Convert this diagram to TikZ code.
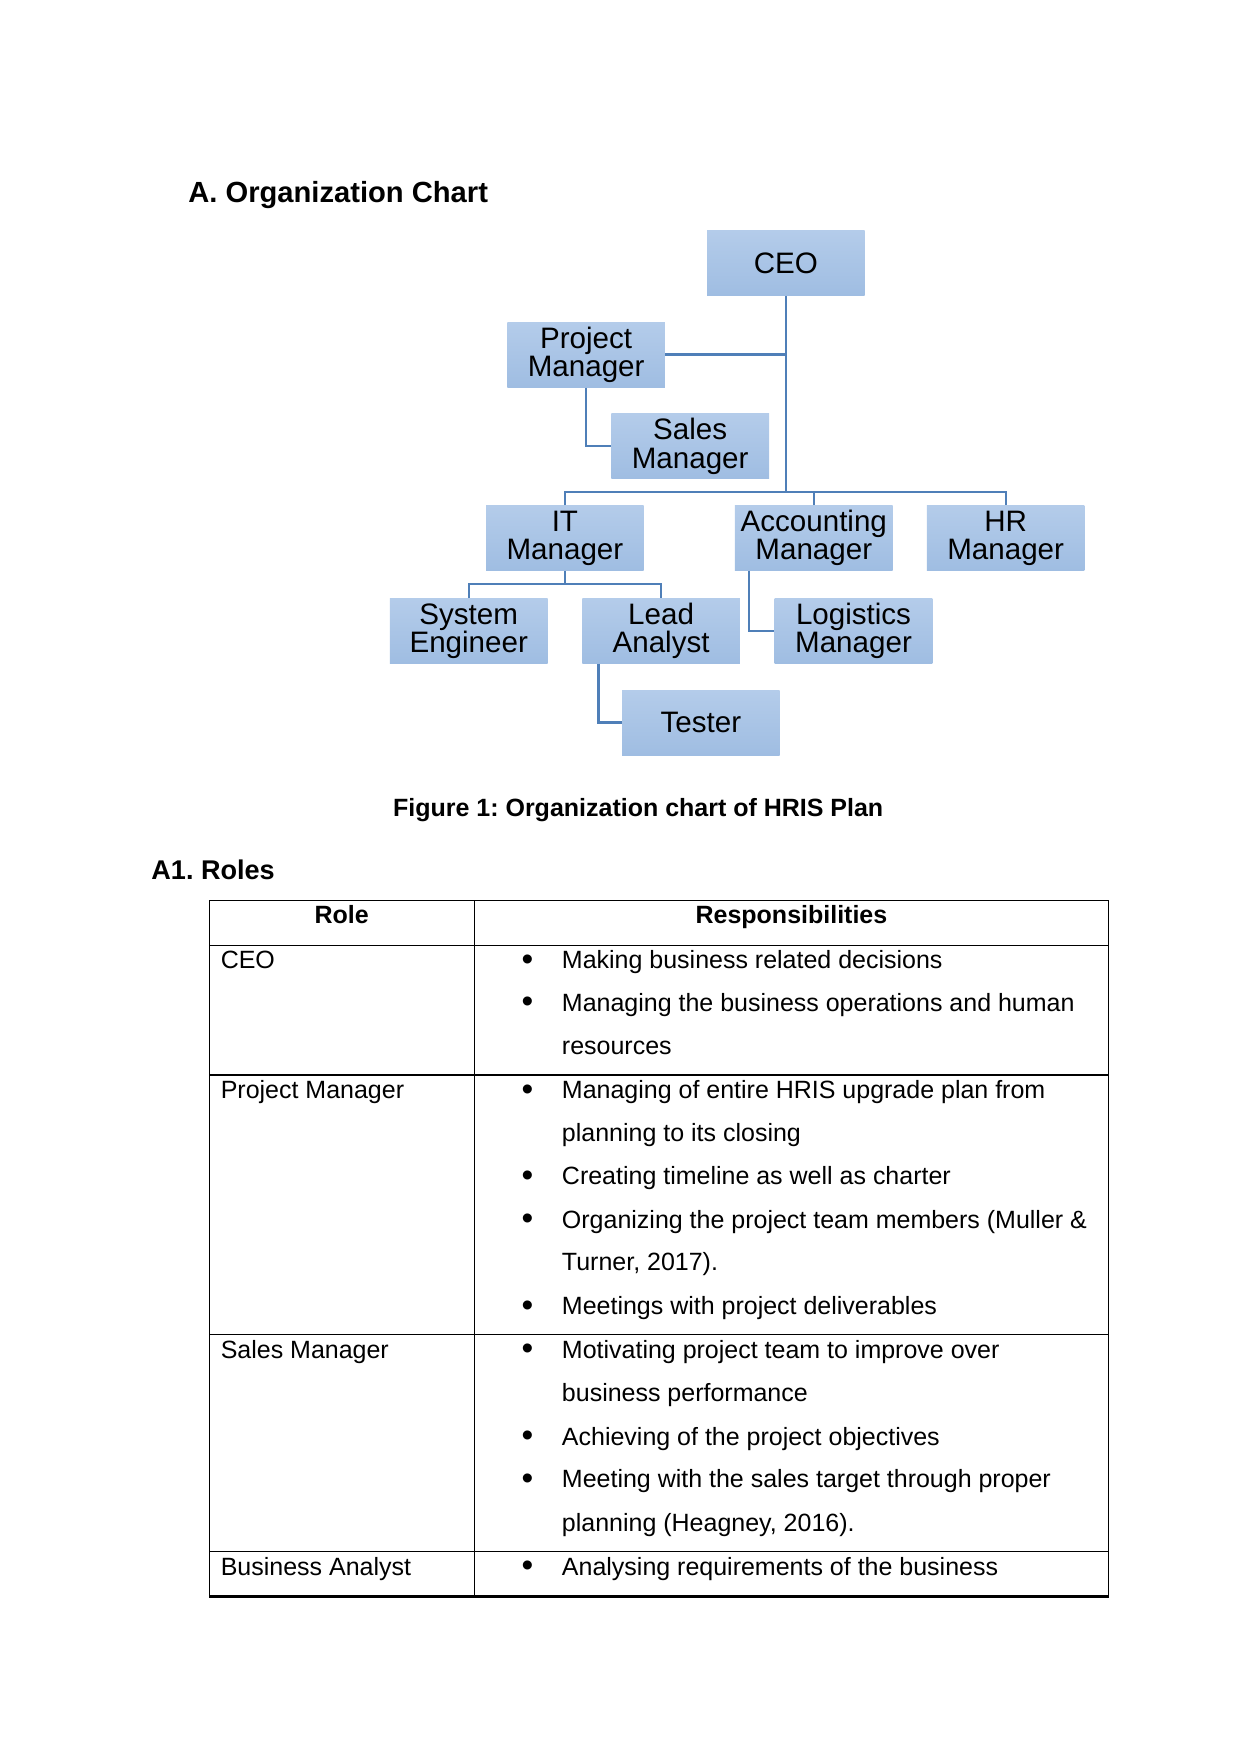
\documentclass[tikz,border=0pt]{standalone}
\usepackage{fontspec}
\setmainfont{Liberation Sans}
\frenchspacing
\definecolor{boxtop}{HTML}{B4CCEA}
\definecolor{boxbot}{HTML}{9FBDE2}
\definecolor{connblue}{HTML}{4F7FB8}
\begin{document}
\begin{tikzpicture}[x=0.5372pt,y=-0.5372pt,
  orgbox/.style={minimum width=75.7pt, minimum height=31.2pt, inner sep=0pt,
    top color=boxtop, bottom color=boxbot, align=center,
    font=\fontsize{14.2}{13.6}\selectfont},
  conn/.style={draw=connblue, line width=1.1pt},
  txt/.style={anchor=base west, inner sep=0pt, font=\fontsize{12}{14}\selectfont},
  hdr/.style={anchor=base, inner sep=0pt, font=\fontsize{12}{14}\selectfont\bfseries},
  bul/.style={anchor=base west, inner sep=0pt, yshift=-0.8pt, font=\fontsize{16}{16}\selectfont},
  rule/.style={draw=black, line width=0.6pt}]
\useasboundingbox (0,0) rectangle (1109,1568);

% headings
\node[anchor=base west, inner sep=0pt, font=\fontsize{14}{16}\selectfont\bfseries] (title) at (168,181) {A. Organization Chart};
\node[anchor=base, inner sep=0pt, font=\fontsize{12}{14}\selectfont\bfseries] (caption) at (570.5,730) {Figure 1: Organization chart of HRIS Plan};
\node[anchor=base west, inner sep=0pt, font=\fontsize{13}{15}\selectfont\bfseries] (roles) at (135,786) {A1. Roles};

% org chart boxes
\node[orgbox] (ceo) at (702.5,235) {CEO};
\node[orgbox] (pm) at (524,317) {Project\\Manager};
\node[orgbox] (sales) at (617,399) {Sales\\Manager};
\node[orgbox] (it) at (505,481) {IT\\Manager};
\node[orgbox] (acc) at (727.5,481) {Accounting\\Manager};
\node[orgbox] (hr) at (899,481) {HR\\Manager};
\node[orgbox] (se) at (419,564) {System\\Engineer};
\node[orgbox] (la) at (591,564) {Lead\\Analyst};
\node[orgbox] (log) at (763,564) {Logistics\\Manager};
\node[orgbox] (tester) at (626.5,646) {Tester};

\coordinate (bus) at (0,440);
\coordinate (itbus) at (0,522);

% connectors
\draw[conn] (ceo.south) -- (ceo.south |- bus);
\draw[conn] (pm.east) -- (pm.east -| ceo.south);
\draw[conn] (pm.south) |- (sales.west);
\draw[conn] (it.north) -- (it.north |- bus) -- (hr.north |- bus) -- (hr.north);
\draw[conn] (acc.north) -- (acc.north |- bus);
\draw[conn] (it.south) -- (it.south |- itbus);
\draw[conn] (se.north) -- (se.north |- itbus) -- (la.north |- itbus) -- (la.north);
\draw[conn] ([xshift=7pt]acc.south west) |- (log.west);
\draw[conn] ([xshift=8pt]la.south west) |- (tester.west);

% table
\draw[rule] (187,805) rectangle (991,1427);
\draw[rule] (424,805) -- (424,1427);
\draw[rule] (187,845) -- (991,845);
\draw[rule] (187,961) -- (991,961);
\draw[rule] (187,1193) -- (991,1193);
\draw[rule] (187,1387) -- (991,1387);
\draw[draw=black, line width=1.3pt] (187,1427) -- (991,1427);

\node[hdr] (hrole) at (305.5,826) {Role};
\node[hdr] (hresp) at (707.5,826) {Responsibilities};

% CEO row
\node[txt] (r1) at (197,866) {CEO};
\node[bul] (b11) at (466,866) {•};
\node[txt] (c11) at (502,866) {Making business related decisions};
\node[bul] (b12) at (466,904) {•};
\node[txt] (c12) at (502,904) {Managing the business operations and human};
\node[txt] (c13) at (502,943) {resources};

% Project Manager row
\node[txt] (r2) at (197,982) {Project Manager};
\node[bul] (b21) at (466,982) {•};
\node[txt] (c21) at (502,982) {Managing of entire HRIS upgrade plan from};
\node[txt] (c22) at (502,1020) {planning to its closing};
\node[bul] (b23) at (466,1059) {•};
\node[txt] (c23) at (502,1059) {Creating timeline as well as charter};
\node[bul] (b24) at (466,1098) {•};
\node[txt] (c24) at (502,1098) {Organizing the project team members (Muller \&};
\node[txt] (c25) at (502,1136) {Turner, 2017).};
\node[bul] (b26) at (466,1175) {•};
\node[txt] (c26) at (502,1175) {Meetings with project deliverables};

% Sales Manager row
\node[txt] (r3) at (197,1214) {Sales Manager};
\node[bul] (b31) at (466,1214) {•};
\node[txt] (c31) at (502,1214) {Motivating project team to improve over};
\node[txt] (c32) at (502,1253) {business performance};
\node[bul] (b33) at (466,1292) {•};
\node[txt] (c33) at (502,1292) {Achieving of the project objectives};
\node[bul] (b34) at (466,1330) {•};
\node[txt] (c34) at (502,1330) {Meeting with the sales target through proper};
\node[txt] (c35) at (502,1369) {planning (Heagney, 2016).};

% Business Analyst row
\node[txt] (r4) at (197,1408) {Business Analyst};
\node[bul] (b41) at (466,1408) {•};
\node[txt] (c41) at (502,1408) {Analysing requirements of the business};
\end{tikzpicture}
\end{document}
